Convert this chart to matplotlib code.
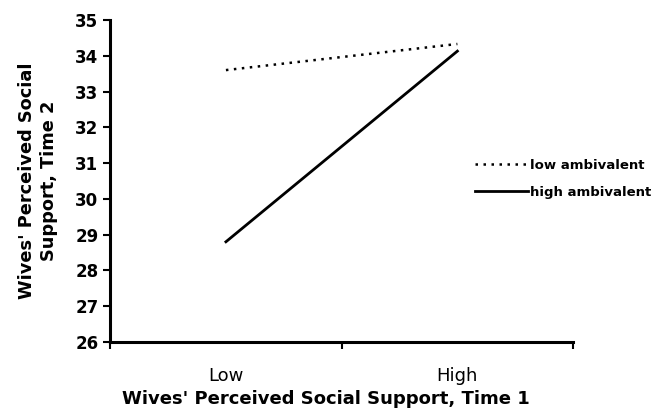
import matplotlib.pyplot as plt

plt.rcParams['font.family'] = ['DejaVu Sans']

categories = ["Low", "High"]
low_amb = [33.6, 34.33]
high_amb = [28.8, 34.13]
yticks = list(range(26, 36))

fig = plt.figure(figsize=(6.52, 4.17), dpi=100)
ax = fig.add_axes([0.169, 0.180, 0.710, 0.772])

xs = [0.5, 1.5]
ax.plot(xs, low_amb, color='black', lw=1.8, linestyle=(0, (1, 2.2)), label='low ambivalent')
ax.plot(xs, high_amb, color='black', lw=2.0, label='high ambivalent')

ax.set_xlim(0, 2)
ax.set_ylim(26, 35)
ax.set_yticks(yticks)
ax.set_xticks([0, 1, 2])
ax.set_xticklabels([])
ax.set_xticks(xs, minor=True)
ax.set_xticklabels(categories, minor=True, fontsize=13)
ax.tick_params(axis='x', which='minor', length=0, pad=18)
ax.tick_params(axis='x', which='major', length=5, width=1.5, direction='out')
ax.tick_params(axis='y', length=5, width=1.5, direction='out', labelsize=12)
for t in ax.get_yticklabels():
    t.set_fontweight('bold')

for s in ['top', 'right']:
    ax.spines[s].set_visible(False)
ax.spines['left'].set_linewidth(2.2)
ax.spines['bottom'].set_linewidth(2.2)

ax.set_xlabel("Wives' Perceived Social Support, Time 1", fontsize=13, fontweight='bold', labelpad=4)
ax.xaxis.label.set_x(0.467)
ax.set_ylabel("Wives' Perceived Social\nSupport, Time 2", fontsize=12.8, fontweight='bold',
              labelpad=12, linespacing=1.35)

ax.legend(loc='center left', bbox_to_anchor=(0.7285, 0.571), bbox_transform=fig.transFigure,
          frameon=False, prop={'weight': 'bold', 'size': 9.5}, handlelength=4.0,
          handletextpad=0.15, labelspacing=1.05, borderpad=0, borderaxespad=0)

fig.savefig('out.png', dpi=100)
